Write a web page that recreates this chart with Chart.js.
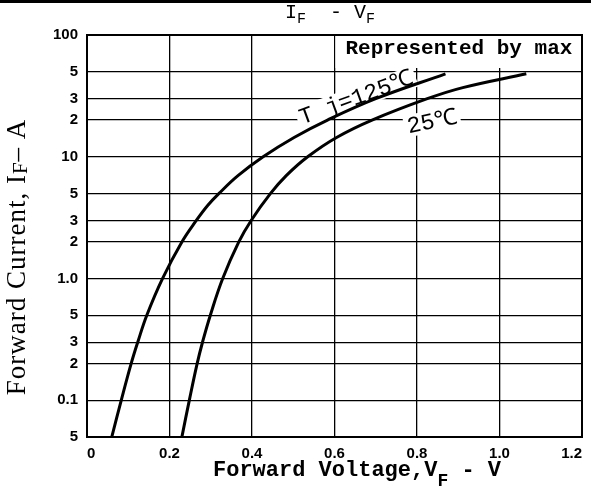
<!DOCTYPE html>
<html>
<head>
<meta charset="utf-8">
<script src="https://cdn.jsdelivr.net/npm/chart.js@4.4.0/dist/chart.umd.min.js"></script>
<style>
  html, body { margin: 0; padding: 0; background: #fff; }
  #wrap { width: 591px; height: 488px; }
</style>
</head>
<body>
<div id="wrap"><canvas id="ifvf" width="591" height="488"></canvas></div>
<script>
// Forward current (A) vs forward voltage (V)
const current125 = [0.05, 0.1, 0.2, 0.3, 0.5, 1, 2, 3, 4, 5, 7, 10, 14.4, 20, 30, 48];
const voltage125 = [0.060, 0.083, 0.107, 0.123, 0.145, 0.183, 0.230, 0.265, 0.293, 0.320, 0.366, 0.427, 0.502, 0.583, 0.700, 0.869];

const current25 = [0.05, 0.1, 0.2, 0.3, 0.5, 1, 2, 3, 5, 7, 10, 14.4, 20, 30, 37, 48];
const voltage25 = [0.230, 0.248, 0.267, 0.280, 0.299, 0.329, 0.368, 0.398, 0.445, 0.483, 0.535, 0.605, 0.691, 0.825, 0.911, 1.065];

// Axis ticks and the labels printed next to them
const xTicks = [0, 0.2, 0.4, 0.6, 0.8, 1.0, 1.2];
const xTickLabels = ['0', '0.2', '0.4', '0.6', '0.8', '1.0', '1.2'];
const yTicks = [0.05, 0.1, 0.2, 0.3, 0.5, 1, 2, 3, 5, 10, 20, 30, 50, 100];
const yTickLabels = ['5', '0.1', '2', '3', '5', '1.0', '2', '3', '5', '10', '2', '3', '5', '100'];

const toPoints = (xs, ys) => xs.map((v, i) => ({ x: v, y: ys[i] }));

// draws a run of text where some parts are subscripts, centred on x
function drawParts(ctx, parts, x, y, font, subFont, drop) {
    let total = 0;
    parts.forEach(p => {
        ctx.font = p.sub ? subFont : font;
        p.w = ctx.measureText(p.t).width;
        total += p.w;
    });
    let cx = x - total / 2;
    ctx.textAlign = 'left';
    parts.forEach(p => {
        ctx.font = p.sub ? subFont : font;
        ctx.fillText(p.t, cx, y + (p.sub ? drop : 0));
        cx += p.w;
    });
}

function curveLabel(ctx, text, px, py, angle, font, bgOnly) {
    ctx.save();
    ctx.translate(px, py);
    ctx.rotate(angle * Math.PI / 180);
    ctx.font = font;
    ctx.textAlign = 'left';
    ctx.textBaseline = 'alphabetic';
    const w = ctx.measureText(text).width;
    if (bgOnly) {
        ctx.fillStyle = '#fff';
        ctx.fillRect(-3, -18, w + 6, 22);
    } else {
        ctx.fillStyle = '#000';
        ctx.fillText(text, 0, 0);
    }
    ctx.restore();
}

const labelFont = '23px "Liberation Mono", "DejaVu Sans Mono", monospace';

const decor = {
    id: 'decor',
    beforeDatasetsDraw(chart) {
        const { ctx, chartArea: a, scales: { x, y } } = chart;
        ctx.save();
        // white box for the note in the top right corner
        const bx = x.getPixelForValue(0.6);
        ctx.fillStyle = '#fff';
        ctx.fillRect(bx + 1, a.top, a.right - bx - 1, 33);
        ctx.restore();
        curveLabel(ctx, 'T j=125\u2103', x.getPixelForValue(0.522), y.getPixelForValue(18.4), -20, labelFont, true);
        curveLabel(ctx, '25\u2103', x.getPixelForValue(0.78), y.getPixelForValue(15.6), -12, labelFont, true);
    },
    afterDatasetsDraw(chart) {
        const { ctx, chartArea: a, scales: { x, y } } = chart;
        curveLabel(ctx, 'T j=125\u2103', x.getPixelForValue(0.522), y.getPixelForValue(18.4), -20, labelFont, false);
        curveLabel(ctx, '25\u2103', x.getPixelForValue(0.78), y.getPixelForValue(15.6), -12, labelFont, false);

        ctx.save();
        ctx.fillStyle = '#000';
        ctx.font = 'bold 21px "Liberation Mono", monospace';
        ctx.textAlign = 'left';
        ctx.fillText('Represented by max', x.getPixelForValue(0.6) + 11, a.top + 19);
        ctx.restore();
    },
    afterDraw(chart) {
        const { ctx, chartArea: a } = chart;
        ctx.save();
        ctx.fillStyle = '#000';
        ctx.strokeStyle = '#000';
        // frame
        ctx.lineWidth = 2;
        ctx.strokeRect(a.left, a.top, a.right - a.left, a.bottom - a.top);
        // scan edge at the top of the sheet
        ctx.fillRect(0, 0, chart.width, 3);

        // chart title
        drawParts(ctx, [{ t: 'I' }, { t: 'F', sub: true }, { t: '  - V' }, { t: 'F', sub: true }],
            330, 18, '20px "Liberation Mono", monospace', '15px "Liberation Mono", monospace', 5);

        // x axis title
        drawParts(ctx, [{ t: 'Forward Voltage,V' }, { t: 'F', sub: true }, { t: ' - V' }],
            357, 476, 'bold 22px "Liberation Mono", monospace', 'bold 18px "Liberation Mono", monospace', 10);

        // y axis title
        ctx.translate(25, 257);
        ctx.rotate(-Math.PI / 2);
        ctx.letterSpacing = '1px';
        drawParts(ctx, [{ t: 'Forward Current, I' }, { t: 'F', sub: true }, { t: '\u2013 A' }],
            0, 0, '27px "Liberation Serif", serif', '21px "Liberation Serif", serif', 2);
        ctx.restore();
    }
};

const ctx = document.getElementById('ifvf').getContext('2d');
new Chart(ctx, {
    type: 'scatter',
    data: {
        datasets: [
            { label: 'Tj=125', data: toPoints(voltage125, current125) },
            { label: 'Tj=25', data: toPoints(voltage25, current25) }
        ]
    },
    options: {
        responsive: false,
        animation: false,
        devicePixelRatio: 1,
        showLine: true,
        layout: { padding: { top: 35, right: 9, bottom: 0, left: 0 } },
        elements: {
            line: { borderColor: '#000', borderWidth: 3, tension: 0.4, fill: false, capBezierPoints: true },
            point: { radius: 0, hoverRadius: 0 }
        },
        plugins: {
            legend: { display: false },
            tooltip: { enabled: false }
        },
        scales: {
            x: {
                type: 'linear',
                min: 0,
                max: 1.2,
                afterBuildTicks: scale => { scale.ticks = xTicks.map(v => ({ value: v })); },
                afterFit: scale => { scale.height = 51; scale.paddingLeft = 0; scale.paddingRight = 0; },
                ticks: {
                    autoSkip: false,
                    maxRotation: 0,
                    align: 'inner',
                    padding: 8,
                    color: '#000',
                    font: { family: 'Liberation Sans', size: 15, weight: 'bold' },
                    callback: (v, i) => xTickLabels[i]
                },
                grid: { color: '#000', lineWidth: 1.3, drawTicks: false },
                border: { color: '#000', width: 2 }
            },
            y: {
                type: 'logarithmic',
                min: 0.05,
                max: 100,
                afterBuildTicks: scale => { scale.ticks = yTicks.map(v => ({ value: v })); },
                afterFit: scale => { scale.width = 87; scale.paddingTop = 0; scale.paddingBottom = 0; },
                ticks: {
                    autoSkip: false,
                    padding: 9,
                    color: '#000',
                    font: { family: 'Liberation Sans', size: 15, weight: 'bold' },
                    callback: (v, i) => yTickLabels[i]
                },
                grid: { color: '#000', lineWidth: 1.3, drawTicks: false },
                border: { color: '#000', width: 2 }
            }
        }
    },
    plugins: [decor]
});
</script>
</body>
</html>
